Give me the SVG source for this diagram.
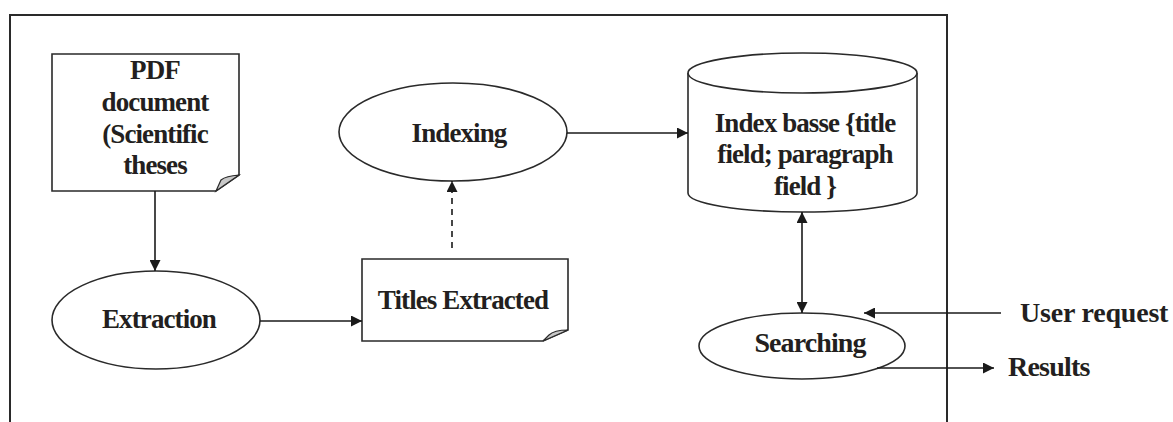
<svg xmlns="http://www.w3.org/2000/svg" width="1173" height="422" viewBox="0 0 1173 422">
<style>
.shape{fill:#fff;stroke:#2a2a2a;stroke-width:1.6}
.fold{fill:#c8c8c8;stroke:#2a2a2a;stroke-width:1.2}
.lbl{font-family:"Liberation Serif","Times New Roman",serif;font-weight:bold;font-size:27px;letter-spacing:-0.9px;fill:#231f20;text-anchor:middle}
.lbl2{font-family:"Liberation Serif","Times New Roman",serif;font-weight:bold;font-size:28px;letter-spacing:-0.8px;fill:#231f20}
.conn{fill:none;stroke:#1a1a1a;stroke-width:1.6}
.frame{fill:none;stroke:#2a2a2a;stroke-width:2}
</style>
<defs>
<marker id="ah" viewBox="0 0 10 10" refX="10" refY="5" markerWidth="12" markerHeight="11" markerUnits="userSpaceOnUse" orient="auto-start-reverse">
<path d="M0,0 L10,5 L0,10 Z" fill="#1a1a1a"/>
</marker>
</defs>
<rect width="1173" height="422" fill="#fff"/>
<path class="frame" d="M10,422 V15 H947 V422"/>

<g id="pdf">
<path class="shape" d="M52,54 H239 V175 L216,191 H52 Z"/>
<path class="fold" d="M216,191 L239,175 Q226,176 221,180 Z"/>
<text class="lbl" x="155" y="79">PDF</text>
<text class="lbl" x="155" y="111">document</text>
<text class="lbl" x="155" y="143">(Scientific</text>
<text class="lbl" x="155" y="174">theses</text>
</g>

<g id="extraction">
<ellipse class="shape" cx="156" cy="320" rx="104" ry="49"/>
<text class="lbl" x="159" y="328">Extraction</text>
</g>

<g id="titles">
<path class="shape" d="M362,259 H568 V330 L543,341 H362 Z"/>
<path class="fold" d="M543,341 L568,330 Q554,330 549,335 Z"/>
<text class="lbl" x="463" y="309">Titles Extracted</text>
</g>

<g id="indexing">
<ellipse class="shape" cx="453" cy="132" rx="114" ry="49"/>
<text class="lbl" x="459" y="142">Indexing</text>
</g>

<g id="indexbase">
<path class="shape" d="M688,73 V193 A114.5,19 0 0 0 917,193 V73"/>
<ellipse class="shape" cx="802.5" cy="73" rx="114.5" ry="20"/>
<text class="lbl" x="805" y="132">Index basse {title</text>
<text class="lbl" x="805" y="163">field; paragraph</text>
<text class="lbl" x="805" y="195">field }</text>
</g>

<g id="searching">
<ellipse class="shape" cx="802" cy="346" rx="103" ry="33"/>
<text class="lbl" x="810" y="352" style="font-size:28px">Searching</text>
</g>

<g id="userrequest">
<text class="lbl2" x="1020" y="322" style="letter-spacing:-0.2px">User request</text>
</g>
<g id="results">
<text class="lbl2" x="1008" y="376">Results</text>
</g>

<g id="connectors">
<line class="conn" x1="155" y1="191" x2="155" y2="271" marker-end="url(#ah)"/>
<line class="conn" x1="260" y1="321" x2="362" y2="321" marker-end="url(#ah)"/>
<line class="conn" x1="452" y1="248" x2="452" y2="181" stroke-dasharray="6,5" marker-end="url(#ah)"/>
<line class="conn" x1="567" y1="133" x2="688" y2="133" marker-end="url(#ah)"/>
<line class="conn" x1="802" y1="212" x2="802" y2="313" marker-start="url(#ah)" marker-end="url(#ah)"/>
<line class="conn" x1="1001" y1="313" x2="864" y2="313" marker-end="url(#ah)"/>
<line class="conn" x1="877" y1="368" x2="994" y2="368" marker-end="url(#ah)"/>
</g>
</svg>
